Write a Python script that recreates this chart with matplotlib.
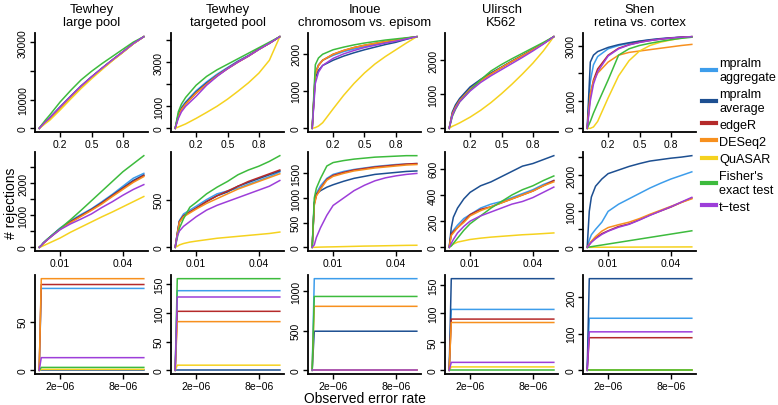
import numpy as np
import matplotlib
matplotlib.use("Agg")
import matplotlib.pyplot as plt
from matplotlib.lines import Line2D

plt.rcParams["font.family"] = ["Liberation Sans", "DejaVu Sans"]

METHODS = ["mpralm\naggregate", "mpralm\naverage", "edgeR", "DESeq2",
           "QuASAR", "Fisher's\nexact test", "t\u2212test"]
COLORS = ["#3D9DEB", "#1D4F91", "#B52A2A", "#F7901E",
          "#F5D21F", "#3DBB3D", "#9D3ED9"]

TITLES = ["Tewhey\nlarge pool", "Tewhey\ntargeted pool", "Inoue\nchromosom vs. episom",
          "Ulirsch\nK562", "Shen\nretina vs. cortex"]

# shared x grids per row
X_TOP = [0, 0.03, 0.06, 0.1, 0.2, 0.3, 0.4, 0.5, 0.6, 0.7, 0.8, 0.9, 1.0]
X_MID = [0, 0.001, 0.002, 0.004, 0.007, 0.01, 0.015, 0.02, 0.025, 0.03, 0.035, 0.04, 0.045, 0.05]
X_BOT = [0, 2e-7, 1e-5]

# ---- row 1: full range ----
TOP_TEWHEY_LARGE = {
    "agg":    [0, 1200, 2300, 3700, 7500, 11200, 14800, 18000, 21000, 23900, 26700, 29600, 32000],
    "avg":    [0, 1150, 2250, 3600, 7400, 11100, 14700, 17900, 20900, 23850, 26650, 29600, 32000],
    "edger":  [0, 1100, 2150, 3450, 7200, 10950, 14600, 17850, 20900, 23850, 26650, 29600, 32000],
    "deseq":  [0, 1000, 2000, 3250, 7000, 10800, 14400, 17700, 20800, 23750, 26600, 29550, 32000],
    "quasar": [0, 800, 1700, 2800, 6400, 10200, 13900, 17300, 20500, 23600, 26500, 29500, 32000],
    "fisher": [0, 1500, 2900, 4600, 9200, 13200, 16900, 19900, 22600, 25100, 27600, 30100, 32000],
    "ttest":  [0, 1150, 2250, 3600, 7450, 11150, 14750, 17950, 21000, 23900, 26700, 29600, 32000],
}
TOP_TEWHEY_TARGETED = {
    "agg":    [0, 650, 950, 1200, 1700, 2100, 2450, 2750, 3050, 3300, 3600, 3850, 4150],
    "avg":    [0, 600, 900, 1150, 1650, 2050, 2400, 2720, 3020, 3280, 3580, 3850, 4150],
    "edger":  [0, 550, 850, 1100, 1600, 2000, 2380, 2700, 3000, 3270, 3580, 3850, 4150],
    "deseq":  [0, 550, 850, 1100, 1600, 2000, 2380, 2700, 3000, 3270, 3570, 3850, 4150],
    "quasar": [0, 60, 120, 200, 450, 720, 1000, 1320, 1680, 2060, 2500, 3080, 4150],
    "fisher": [0, 750, 1100, 1400, 1950, 2350, 2650, 2900, 3150, 3400, 3650, 3900, 4150],
    "ttest":  [0, 450, 750, 1000, 1450, 1950, 2350, 2700, 3000, 3270, 3570, 3850, 4150],
}
TOP_INOUE = {
    "agg":    [0, 1500, 1700, 1820, 1950, 2050, 2120, 2180, 2240, 2290, 2340, 2400, 2450],
    "avg":    [0, 1350, 1550, 1680, 1820, 1930, 2020, 2100, 2170, 2240, 2300, 2380, 2450],
    "edger":  [0, 1450, 1680, 1820, 1980, 2080, 2160, 2220, 2270, 2320, 2360, 2410, 2450],
    "deseq":  [0, 1450, 1680, 1820, 1980, 2080, 2160, 2220, 2270, 2320, 2360, 2410, 2450],
    "quasar": [0, 20, 60, 150, 520, 880, 1200, 1480, 1720, 1920, 2100, 2280, 2450],
    "fisher": [0, 1700, 1880, 1980, 2100, 2170, 2230, 2280, 2320, 2360, 2390, 2420, 2450],
    "ttest":  [0, 1200, 1500, 1680, 1870, 1990, 2080, 2160, 2220, 2280, 2330, 2390, 2450],
}
TOP_ULIRSCH = {
    "agg":    [0, 450, 650, 850, 1180, 1420, 1620, 1800, 1980, 2150, 2320, 2500, 2700],
    "avg":    [0, 480, 690, 880, 1220, 1440, 1630, 1800, 1980, 2150, 2320, 2500, 2700],
    "edger":  [0, 420, 620, 820, 1150, 1400, 1600, 1790, 1970, 2140, 2310, 2500, 2700],
    "deseq":  [0, 420, 620, 820, 1150, 1400, 1600, 1790, 1970, 2140, 2310, 2500, 2700],
    "quasar": [0, 60, 100, 160, 330, 530, 760, 1020, 1300, 1600, 1920, 2280, 2700],
    "fisher": [0, 350, 560, 780, 1120, 1430, 1690, 1880, 2050, 2210, 2370, 2530, 2700],
    "ttest":  [0, 380, 580, 780, 1100, 1350, 1550, 1730, 1910, 2090, 2280, 2480, 2700],
}
TOP_SHEN = {
    "agg":    [0, 1700, 2300, 2600, 2880, 3000, 3080, 3150, 3200, 3240, 3270, 3300, 3320],
    "avg":    [0, 2400, 2650, 2780, 2930, 3030, 3100, 3160, 3210, 3250, 3280, 3300, 3320],
    "edger":  [0, 1200, 1750, 2150, 2650, 2900, 3030, 3120, 3180, 3230, 3270, 3300, 3320],
    "deseq":  [0, 1250, 1700, 2000, 2400, 2650, 2750, 2800, 2850, 2900, 2950, 3000, 3040],
    "quasar": [0, 0, 50, 250, 1100, 1900, 2450, 2800, 3000, 3120, 3200, 3270, 3320],
    "fisher": [0, 250, 550, 900, 1750, 2650, 2880, 3000, 3080, 3150, 3210, 3260, 3300],
    "ttest":  [0, 1000, 1600, 2050, 2620, 2880, 3020, 3110, 3180, 3230, 3270, 3300, 3320],
}

# ---- row 2: low error rates ----
MID_TEWHEY_LARGE = {
    "agg":    [0, 60, 140, 260, 430, 600, 830, 1020, 1200, 1420, 1650, 1900, 2150, 2300],
    "avg":    [0, 55, 130, 250, 420, 580, 800, 990, 1180, 1390, 1620, 1850, 2080, 2250],
    "edger":  [0, 55, 130, 250, 410, 570, 790, 980, 1170, 1380, 1610, 1830, 2050, 2230],
    "deseq":  [0, 50, 120, 240, 400, 560, 770, 960, 1150, 1350, 1580, 1800, 2020, 2200],
    "quasar": [0, 20, 50, 110, 200, 290, 470, 630, 790, 950, 1100, 1260, 1420, 1580],
    "fisher": [0, 60, 140, 260, 420, 580, 860, 1150, 1450, 1750, 2050, 2350, 2600, 2850],
    "ttest":  [0, 55, 130, 240, 400, 550, 730, 880, 1040, 1240, 1420, 1620, 1800, 1950],
}
MID_TEWHEY_TARGETED = {
    "agg":    [0, 150, 280, 350, 390, 430, 500, 560, 590, 620, 660, 700, 740, 790],
    "avg":    [0, 140, 270, 330, 370, 410, 480, 540, 580, 640, 680, 720, 760, 800],
    "edger":  [0, 140, 270, 330, 370, 410, 480, 540, 590, 640, 690, 730, 770, 810],
    "deseq":  [0, 130, 260, 320, 360, 400, 460, 510, 560, 610, 650, 690, 730, 770],
    "quasar": [0, 10, 25, 40, 55, 65, 80, 95, 105, 115, 125, 135, 145, 160],
    "fisher": [0, 100, 200, 300, 420, 470, 560, 630, 690, 760, 810, 850, 900, 960],
    "ttest":  [0, 120, 170, 220, 270, 320, 390, 440, 480, 520, 560, 600, 640, 700],
}
MID_INOUE = {
    "agg":    [0, 900, 1100, 1250, 1400, 1480, 1540, 1580, 1610, 1640, 1660, 1680, 1690, 1700],
    "avg":    [0, 900, 1080, 1150, 1220, 1270, 1340, 1400, 1440, 1480, 1500, 1520, 1540, 1550],
    "edger":  [0, 880, 1060, 1200, 1380, 1460, 1520, 1570, 1600, 1630, 1650, 1670, 1690, 1700],
    "deseq":  [0, 850, 1040, 1180, 1360, 1440, 1500, 1550, 1580, 1610, 1630, 1650, 1670, 1680],
    "quasar": [0, 0, 2, 5, 8, 10, 15, 20, 25, 28, 32, 36, 40, 42],
    "fisher": [0, 1000, 1200, 1400, 1650, 1720, 1760, 1790, 1810, 1830, 1840, 1850, 1860, 1860],
    "ttest":  [0, 50, 200, 400, 650, 850, 1000, 1150, 1260, 1350, 1410, 1450, 1480, 1500],
}
MID_ULIRSCH = {
    "agg":    [0, 110, 130, 170, 220, 250, 300, 330, 350, 380, 410, 440, 480, 510],
    "avg":    [0, 150, 230, 300, 370, 420, 470, 500, 540, 580, 620, 640, 670, 700],
    "edger":  [0, 100, 120, 150, 200, 250, 290, 310, 340, 370, 400, 430, 470, 510],
    "deseq":  [0, 90, 110, 150, 190, 240, 280, 310, 340, 370, 400, 430, 470, 500],
    "quasar": [0, 15, 25, 40, 50, 60, 70, 78, 84, 90, 96, 100, 105, 110],
    "fisher": [0, 10, 30, 70, 130, 180, 240, 300, 350, 400, 440, 470, 510, 545],
    "ttest":  [0, 30, 60, 110, 160, 200, 240, 270, 300, 330, 350, 380, 420, 460],
}
MID_SHEN = {
    "agg":    [0, 200, 350, 500, 700, 1000, 1200, 1350, 1500, 1650, 1780, 1900, 2000, 2100],
    "avg":    [0, 1000, 1400, 1700, 1900, 2050, 2150, 2250, 2330, 2400, 2440, 2480, 2510, 2550],
    "edger":  [0, 80, 150, 260, 380, 460, 580, 650, 770, 900, 1010, 1120, 1250, 1370],
    "deseq":  [0, 90, 170, 300, 450, 550, 630, 700, 800, 920, 1030, 1140, 1250, 1350],
    "quasar": [0, 0, 1, 2, 3, 4, 5, 6, 7, 8, 9, 10, 11, 12],
    "fisher": [0, 9, 18, 37, 64, 92, 138, 184, 230, 276, 322, 368, 414, 460],
    "ttest":  [0, 70, 140, 240, 360, 450, 560, 640, 760, 890, 1010, 1130, 1260, 1390],
}

# ---- row 3: near-zero error rate (final plateau per method) ----
BOT_TEWHEY_LARGE = [84, 0, 88, 94, 1, 3, 13]
BOT_TEWHEY_TARGETED = [139, 0, 103, 85, 9, 160, 128]
BOT_INOUE = [1160, 495, 0, 810, 0, 935, 0]
BOT_ULIRSCH = [107, 161, 90, 84, 6, 0, 14]
BOT_SHEN = [142, 250, 89, 0, 0, 0, 105]

KEYS = ["agg", "avg", "edger", "deseq", "quasar", "fisher", "ttest"]

TOP_PANELS = [TOP_TEWHEY_LARGE, TOP_TEWHEY_TARGETED, TOP_INOUE, TOP_ULIRSCH, TOP_SHEN]
MID_PANELS = [MID_TEWHEY_LARGE, MID_TEWHEY_TARGETED, MID_INOUE, MID_ULIRSCH, MID_SHEN]
BOT_PANELS = [BOT_TEWHEY_LARGE, BOT_TEWHEY_TARGETED, BOT_INOUE, BOT_ULIRSCH, BOT_SHEN]

# y ticks per panel, and which of them R would label (others overlap and are skipped)
TOP_YTICKS = [([0, 10000, 20000, 30000], [0, 10000, 30000]),
              ([0, 1000, 2000, 3000, 4000], [0, 1000, 3000]),
              ([0, 1000, 2000], [0, 1000, 2000]),
              ([0, 1000, 2000], [0, 1000, 2000]),
              ([0, 1000, 2000, 3000], [0, 1000, 3000])]
MID_YTICKS = [([0, 500, 1000, 1500, 2000, 2500], [0, 1000, 2000]),
              ([0, 500], [0, 500]),
              ([0, 500, 1000, 1500], [0, 500, 1000, 1500]),
              ([0, 200, 400, 600], [0, 200, 400, 600]),
              ([0, 500, 1000, 1500, 2000, 2500], [0, 1000, 2000])]
BOT_YTICKS = [([0, 50], [0, 50]),
              ([0, 50, 100, 150], [0, 50, 100, 150]),
              ([0, 500, 1000], [0, 500, 1000]),
              ([0, 50, 100, 150], [0, 50, 100, 150]),
              ([0, 100, 200], [0, 100, 200])]

W, H = 778, 406
COL_LEFT = [35, 171, 308, 445, 583]
ROW_TOP = [34, 153, 276]
AX_W, AX_H = 113, 99


def r_pad(lo, hi):
    # R style 4% padding
    d = (hi - lo) * 0.04
    return lo - d, hi + d


def style_axis(ax, xticks, xlabels, yticks):
    ticks, shown = yticks
    for side in ["top", "right"]:
        ax.spines[side].set_visible(False)
    for side in ["left", "bottom"]:
        ax.spines[side].set_linewidth(1.3)
    ax.set_xticks(xticks)
    ax.set_xticklabels(xlabels)
    ax.set_yticks(ticks)
    ax.set_yticklabels([str(t) if t in shown else "" for t in ticks])
    ax.tick_params(length=3.5, width=1.0, labelsize=7.5, pad=1.5)
    for lbl in ax.get_yticklabels():
        lbl.set_rotation(90)
        lbl.set_va("center")


def draw_curves(ax, x, panel):
    for key, color in zip(KEYS, COLORS):
        ax.plot(x, panel[key], color=color, lw=1.1, solid_joinstyle="round")


fig = plt.figure(figsize=(W / 100, H / 100), dpi=100)

for c in range(5):
    left = COL_LEFT[c] / W
    axes = []
    for r in range(3):
        bottom = 1 - (ROW_TOP[r] + AX_H) / H
        axes.append(fig.add_axes([left, bottom, AX_W / W, AX_H / H]))
    ax1, ax2, ax3 = axes

    # top row
    draw_curves(ax1, X_TOP, TOP_PANELS[c])
    ymax = max(max(v) for v in TOP_PANELS[c].values())
    ax1.set_xlim(r_pad(0, 1))
    ax1.set_ylim(r_pad(0, ymax))
    style_axis(ax1, [0.2, 0.5, 0.8], ["0.2", "0.5", "0.8"], TOP_YTICKS[c])
    ax1.set_title(TITLES[c], fontsize=9.4, pad=5.5, linespacing=1.15)

    # middle row
    draw_curves(ax2, X_MID, MID_PANELS[c])
    ymax = max(max(v) for v in MID_PANELS[c].values())
    ax2.set_xlim(r_pad(0, 0.05))
    ax2.set_ylim(r_pad(0, ymax))
    style_axis(ax2, [0.01, 0.04], ["0.01", "0.04"], MID_YTICKS[c])

    # bottom row
    for val, color in zip(BOT_PANELS[c], COLORS):
        ax3.plot(X_BOT, [0, val, val], color=color, lw=1.1)
    ax3.set_xlim(r_pad(0, 1e-5))
    ax3.set_ylim(r_pad(0, max(BOT_PANELS[c])))
    style_axis(ax3, [2e-6, 8e-6], ["2e\u221206", "8e\u221206"], BOT_YTICKS[c])

fig.text(11 / W, 1 - 203 / H, "# rejections", rotation=90, ha="center", va="center", fontsize=10)
fig.text(365 / W, 1 - 399 / H, "Observed error rate", ha="center", va="center", fontsize=10)

handles = [Line2D([0], [0], color=col, lw=3) for col in COLORS]
fig.legend(handles, METHODS, loc="center left", bbox_to_anchor=(702 / W, 1 - 136 / H),
           frameon=False, fontsize=9.1, handlelength=1.1, handletextpad=0.25,
           labelspacing=0.4, borderaxespad=0, borderpad=0)

fig.savefig("out.png", dpi=100)
